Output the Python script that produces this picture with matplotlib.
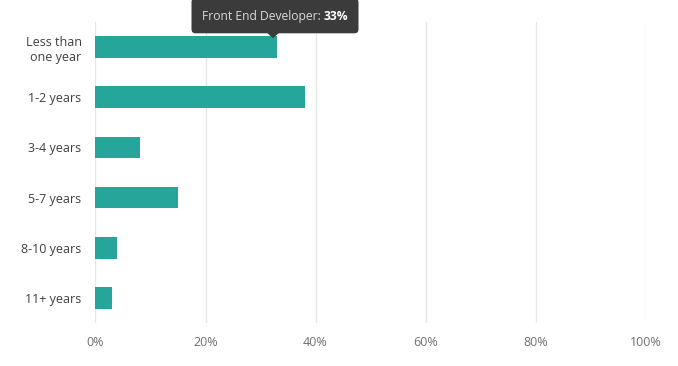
import matplotlib
matplotlib.use('Agg')
import matplotlib.pyplot as plt
from matplotlib.patches import FancyBboxPatch, Polygon
from matplotlib.transforms import IdentityTransform

plt.rcParams['font.family'] = ['Open Sans', 'DejaVu Sans']

# data
categories = ['Less than\none year', '1-2 years', '3-4 years', '5-7 years', '8-10 years', '11+ years']
values = [33, 38, 8, 15, 4, 3]
x_ticks = [0, 20, 40, 60, 80, 100]
x_tick_labels = ['0%', '20%', '40%', '60%', '80%', '100%']
tooltip_series = 'Front End Developer'
tooltip_index = 0

bar_color = '#26a69a'

fig = plt.figure(figsize=(6.78, 3.66), dpi=100)
ax = fig.add_axes([95.5 / 678, 1 - 323 / 366, 550 / 678, 301 / 366])

ypos = list(range(len(categories)))
ax.barh(ypos, values, height=0.43, color=bar_color, zorder=3)

ax.set_xlim(0, 100)
ax.set_ylim(len(categories) - 0.5, -0.5)
ax.set_xticks(x_ticks)
ax.set_xticklabels(x_tick_labels)
ax.set_yticks(ypos)
ax.set_yticklabels(categories, ha='right', multialignment='right')

ax.grid(axis='x', color='#e6e6e6', linewidth=1, zorder=0)
for s in ax.spines.values():
    s.set_visible(False)
ax.tick_params(axis='both', length=0)
ax.tick_params(axis='x', colors='#707070', labelsize=9, pad=9)
ax.tick_params(axis='y', colors='#404040', labelsize=9, pad=10)

# tooltip anchored at the end of the hovered bar (pixel space)
tip_x, tip_y = ax.transData.transform((values[tooltip_index], tooltip_index - 0.43 / 2))
tip_x -= 4
tip_y -= 2
box_w, box_h = 167, 35
box_x0 = tip_x + 2 - box_w / 2
box_y0 = tip_y + 5
box = FancyBboxPatch((box_x0, box_y0), box_w, box_h,
                     boxstyle='round,pad=0,rounding_size=4',
                     facecolor='#3b3b3b', edgecolor='none',
                     transform=IdentityTransform(), zorder=10)
fig.patches.append(box)
arrow = Polygon([(tip_x - 6, box_y0 + 0.5), (tip_x + 6, box_y0 + 0.5), (tip_x, tip_y)],
                closed=True, facecolor='#3b3b3b', edgecolor='none',
                transform=IdentityTransform(), zorder=10)
fig.patches.append(arrow)

renderer = fig.canvas.get_renderer()
t1 = fig.text(0, 0, tooltip_series + ': ', color='#d8d8d8', fontsize=8.7,
              va='center', ha='left', transform=IdentityTransform(), zorder=11)
t2 = fig.text(0, 0, '%d%%' % values[tooltip_index], color='white', fontsize=8.7,
              fontweight='bold', va='center', ha='left',
              transform=IdentityTransform(), zorder=11)
w1 = t1.get_window_extent(renderer).width
w2 = t2.get_window_extent(renderer).width
start = box_x0 + (box_w - w1 - w2) / 2
cy = box_y0 + 17
t1.set_position((start, cy))
t2.set_position((start + w1, cy))

fig.savefig('out.png', dpi=100)
